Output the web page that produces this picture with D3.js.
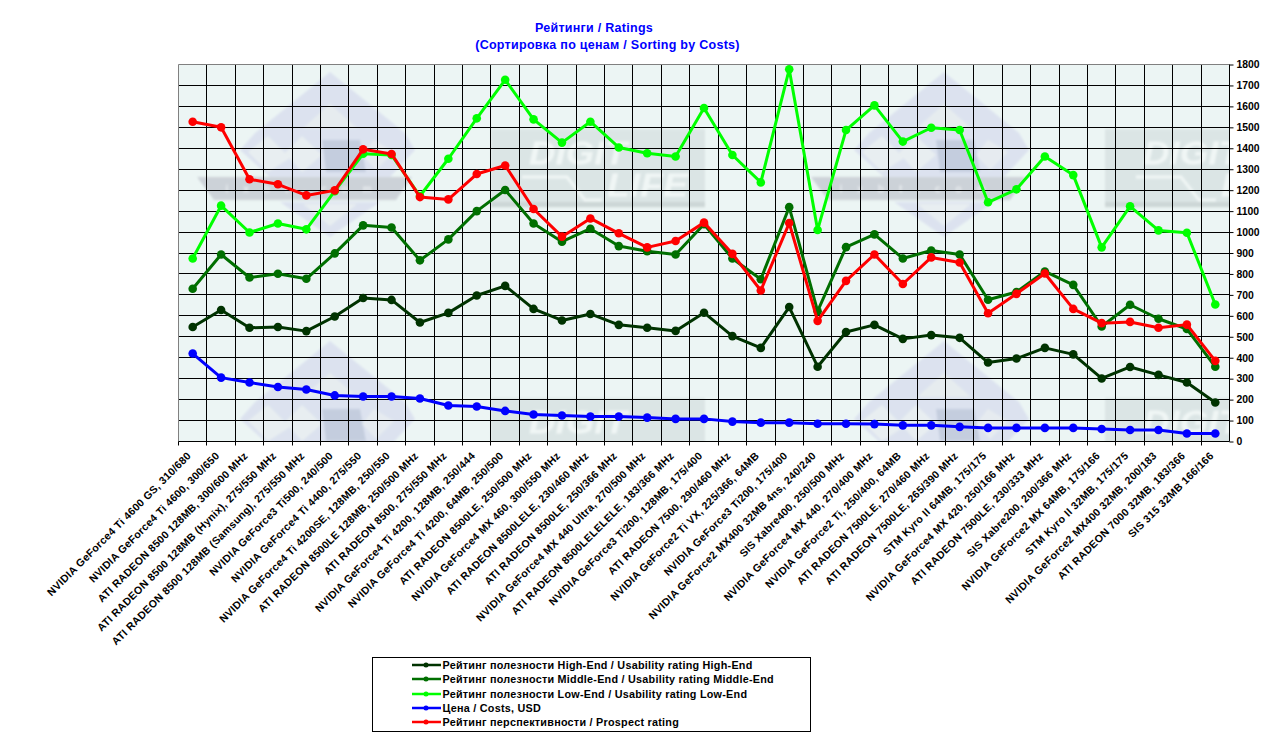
<!DOCTYPE html>
<html><head><meta charset="utf-8">
<script src="https://cdn.jsdelivr.net/npm/d3@7"></script>
<style>
html,body{margin:0;padding:0;background:#fff}
svg{display:block}
text{font-family:"Liberation Sans",Arial,sans-serif;font-weight:bold}
</style></head><body>
<svg id="c" width="1266" height="738"></svg>
<script>
const categories=[
"NVIDIA GeForce4 Ti 4600 GS, 310/680","NVIDIA GeForce4 Ti 4600, 300/650","ATI RADEON 8500 128MB, 300/600 MHz",
"ATI RADEON 8500 128MB (Hynix), 275/550 MHz","ATI RADEON 8500 128MB (Samsung), 275/550 MHz","NVIDIA GeForce3 Ti500, 240/500",
"NVIDIA GeForce4 Ti 4400, 275/550","NVIDIA GeForce4 Ti 4200SE, 128MB, 250/550","ATI RADEON 8500LE 128MB, 250/500 MHz",
"ATI RADEON 8500, 275/550 MHz","NVIDIA GeForce4 Ti 4200, 128MB, 250/444","NVIDIA GeForce4 Ti 4200, 64MB, 250/500",
"ATI RADEON 8500LE, 250/500 MHz","NVIDIA GeForce4 MX 460, 300/550 MHz","ATI RADEON 8500LELE, 230/460 MHz",
"ATI RADEON 8500LE, 250/366 MHz","NVIDIA GeForce4 MX 440 Ultra, 270/500 MHz","ATI RADEON 8500LELELELE, 183/366 MHz",
"NVIDIA GeForce3 Ti200, 128MB, 175/400","ATI RADEON 7500, 290/460 MHz","NVIDIA GeForce2 Ti VX, 225/366, 64MB",
"NVIDIA GeForce3 Ti200, 175/400","NVIDIA GeForce2 MX400 32MB 4ns, 240/240","SIS Xabre400, 250/500 MHz",
"NVIDIA GeForce4 MX 440, 270/400 MHz","NVIDIA GeForce2 Ti, 250/400, 64MB","ATI RADEON 7500LE, 270/460 MHz",
"ATI RADEON 7500LE, 265/390 MHz","STM Kyro II 64MB, 175/175","NVIDIA GeForce4 MX 420, 250/166 MHz",
"ATI RADEON 7500LE, 230/333 MHz","SIS Xabre200, 200/366 MHz","NVIDIA GeForce2 MX 64MB, 175/166",
"STM Kyro II 32MB, 175/175","NVIDIA GeForce2 MX400 32MB, 200/183","ATI RADEON 7000 32MB, 183/366","SIS 315 32MB 166/166"];
const highEnd=[547,628,543,547,527,597,685,676,568,614,697,743,633,578,609,557,543,528,615,503,447,642,357,523,557,490,508,495,377,396,447,416,301,356,318,282,186];
const middleEnd=[729,893,783,801,777,898,1032,1022,865,965,1100,1201,1041,954,1016,933,908,893,1037,874,775,1119,622,928,989,874,912,893,677,714,812,748,549,653,586,537,357];
const lowEnd=[874,1126,998,1041,1013,1195,1374,1368,1172,1350,1543,1727,1538,1427,1527,1404,1376,1361,1592,1368,1237,1777,1010,1487,1605,1432,1498,1487,1142,1204,1361,1272,927,1123,1008,997,654];
const costs=[420,305,282,260,248,220,215,215,205,172,167,146,129,124,119,119,114,108,108,95,90,90,85,85,83,77,77,70,65,65,65,65,60,55,55,38,38];
const prospect=[1527,1500,1252,1228,1175,1199,1395,1373,1167,1156,1277,1318,1110,978,1065,994,927,957,1045,896,721,1043,576,767,893,752,879,855,612,705,802,633,565,571,543,558,385];
const yTicks=d3.range(0,1801,100);
const titleLines=["Рейтинги / Ratings","(Сортировка по ценам / Sorting by Costs)"];
const seriesNames=["Рейтинг полезности High-End / Usability rating High-End","Рейтинг полезности Middle-End / Usability rating Middle-End","Рейтинг полезности Low-End / Usability rating Low-End","Цена / Costs, USD","Рейтинг перспективности / Prospect rating"];
const seriesValues=[highEnd,middleEnd,lowEnd,costs,prospect];
const seriesColors=["#003300","#006f00","#00ff00","#0000ff","#ff0000"];

const L=178.5,R=1229.5,T=64.5,B=441.5;
const svg=d3.select("#c");
const x=d3.scaleBand().domain(categories).range([L,R]);
const y=d3.scaleLinear().domain([0,1800]).range([B,T]);

// watermark pattern
const defs=svg.append("defs");
defs.append("filter").attr("id","soft").append("feGaussianBlur").attr("stdDeviation",1.3);
const OX=120;
const pat=defs.append("pattern").attr("id","wm").attr("patternUnits","userSpaceOnUse")
  .attr("x",OX).attr("y",T).attr("width",614).attr("height",269);
pat.append("rect").attr("width",614).attr("height",269).attr("fill","#ecf5f4");
const g=pat.append("g").attr("filter","url(#soft)").attr("transform",`translate(${-OX},${-T})`);
const P=(pts,f)=>g.append("polygon").attr("points",pts.map(p=>p.join(",")).join(" ")).attr("fill",f);
// diamond (centre x = 330)
P([[330,72],[405,133],[415,150],[390,177],[270,177],[240,150],[255,133]],"#dce2ef");
P([[330,104],[357,128],[303,128]],"#e6ecef");
P([[268,136],[290,158],[268,172],[248,152]],"#e8eef1");
P([[302,136],[322,155],[302,172],[285,153]],"#e8eef1");
P([[322,140],[360,140],[366,172],[326,172]],"#c4cdde");
P([[374,140],[394,152],[376,170],[362,155]],"#e6ebf0");
P([[197,177],[412,177],[396,200],[214,200]],"#ccd2d8");
P([[280,202],[380,202],[330,237]],"#dce2ef");
P([[303,204],[357,204],[330,226]],"#e8eef1");
g.append("text").attr("x",306).attr("y",192).attr("text-anchor","middle").attr("font-size",10).attr("letter-spacing",15).attr("fill","#e8ecee").text("ixbt.com");
// Digit Life box
P([[491,129],[705,129],[705,207],[491,207]],"#dbe5e5");
P([[491,202],[705,202],[705,207],[491,207]],"#ccd6d6");
g.append("text").attr("x",529).attr("y",164).attr("font-size",33).attr("font-style","italic").attr("fill","#f0f6f5").attr("textLength",98).attr("lengthAdjust","spacingAndGlyphs").text("DIGIT");
g.append("text").attr("x",607).attr("y",196).attr("font-size",33).attr("font-style","italic").attr("fill","#f0f6f5").attr("textLength",81).attr("lengthAdjust","spacingAndGlyphs").text("LIFE");
g.append("path").attr("d","M522,177H567L585,200H602").attr("fill","none").attr("stroke","#f0f6f5").attr("stroke-width",3);
svg.append("rect").attr("x",L).attr("y",T).attr("width",R-L).attr("height",B-T).attr("fill","url(#wm)");

// grid
const edges=d3.range(0,categories.length+1).map(i=>L+i*x.step());
svg.append("g").selectAll("line").data(yTicks.filter(d=>d>0&&d<1800)).join("line")
  .attr("x1",L).attr("x2",R).attr("y1",d=>Math.round(y(d)-.5)+.5).attr("y2",d=>Math.round(y(d)-.5)+.5).attr("stroke","#000");
svg.append("g").selectAll("line").data(edges.slice(1,-1)).join("line")
  .attr("y1",T).attr("y2",B).attr("x1",d=>Math.round(d-.5)+.5).attr("x2",d=>Math.round(d-.5)+.5).attr("stroke","#000");
svg.append("path").attr("d",`M${L},${B}V${T}H${R}`).attr("fill","none").attr("stroke","#808080");

// axes
const yAxis=svg.append("g").attr("transform",`translate(${R},0)`).call(d3.axisRight(y).tickValues(yTicks).tickFormat(d=>d).tickSize(4).tickPadding(3));
yAxis.selectAll("text").attr("font-size",10.4).attr("fill","#000").attr("font-family",'"Liberation Sans"').attr("font-weight","bold");
yAxis.selectAll("line").attr("stroke","#000");
yAxis.select(".domain").attr("stroke","#000").attr("d",`M0,${T}V${B}`);
const xAxis=svg.append("g").attr("transform",`translate(0,${B})`).call(d3.axisBottom(x).tickSize(0).tickPadding(0));
xAxis.select(".domain").attr("stroke","#000").attr("d",`M${L},0H${R}`);
xAxis.selectAll("text").attr("font-size",10.6).attr("letter-spacing",0.28).attr("fill","#000").attr("font-family",'"Liberation Sans"').attr("font-weight","bold")
  .attr("text-anchor","end").attr("dy",0).attr("y",0).attr("x",0)
  .attr("transform","translate(-1,15) rotate(-45)");
svg.append("g").selectAll("line").data(edges.slice(0,-1)).join("line")
  .attr("y1",B).attr("y2",B+4).attr("x1",d=>Math.round(d-.5)+.5).attr("x2",d=>Math.round(d-.5)+.5).attr("stroke","#000");

// series
const line=d3.line().x((d,i)=>x(categories[i])+x.bandwidth()/2).y(d=>y(d));
seriesValues.forEach((vals,si)=>{
  const s=svg.append("g");
  s.append("path").datum(vals).attr("d",line).attr("fill","none").attr("stroke",seriesColors[si]).attr("stroke-width",3).attr("stroke-linejoin","round");
  s.selectAll("circle").data(vals).join("circle")
   .attr("cx",(d,i)=>x(categories[i])+x.bandwidth()/2).attr("cy",d=>y(d)).attr("r",4.3).attr("fill",seriesColors[si]);
});

// title
const tAttrs=s=>s.attr("text-anchor","middle").attr("font-size",12.5).attr("letter-spacing",0.28).attr("fill","#0000ff");
svg.append("text").attr("x",594).attr("y",32).call(tAttrs).text(titleLines[0]);
svg.append("text").attr("x",607.5).attr("y",49).call(tAttrs).text(titleLines[1]);

// legend
svg.append("rect").attr("x",372.5).attr("y",657.5).attr("width",438).attr("height",74).attr("fill","#fff").attr("stroke","#000");
const rowY=[665,679,694,708,722];
const legend=svg.append("g").selectAll("g").data(seriesNames).join("g").attr("transform",(d,i)=>`translate(0,${rowY[i]})`);
legend.append("line").attr("x1",412).attr("x2",441).attr("stroke",(d,i)=>seriesColors[i]).attr("stroke-width",2.5);
legend.append("circle").attr("cx",426).attr("r",2.5).attr("fill",(d,i)=>seriesColors[i]);
legend.append("text").attr("x",442.5).attr("y",4).attr("font-size",10.8).attr("letter-spacing",0.25).attr("fill","#000").text(d=>d);
</script>
</body></html>
